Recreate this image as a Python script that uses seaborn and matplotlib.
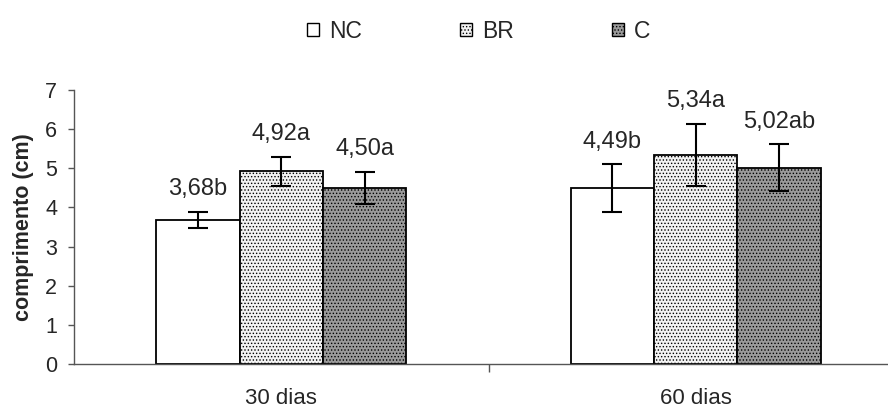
import numpy as np
import pandas as pd
import matplotlib
matplotlib.use('Agg')
import matplotlib.pyplot as plt
import seaborn as sns
from matplotlib.patches import Patch

groups = ['30 dias', '60 dias']
series = ['NC', 'BR', 'C']
nc_vals = [3.68, 4.49]
br_vals = [4.92, 5.34]
c_vals = [4.50, 5.02]
nc_err = [0.20, 0.61]
br_err = [0.38, 0.79]
c_err = [0.41, 0.59]
nc_labels = ['3,68b', '4,49b']
br_labels = ['4,92a', '5,34a']
c_labels = ['4,50a', '5,02ab']
yticks = [0, 1, 2, 3, 4, 5, 6, 7]
ylabel = 'comprimento (cm)'

sns.set_style('white')
plt.rcParams['font.family'] = ['Liberation Sans', 'DejaVu Sans']
plt.rcParams['hatch.linewidth'] = 0.6
plt.rcParams['hatch.color'] = 'black'

vals = {'NC': nc_vals, 'BR': br_vals, 'C': c_vals}
errs = {'NC': nc_err, 'BR': br_err, 'C': c_err}
labs = {'NC': nc_labels, 'BR': br_labels, 'C': c_labels}
rows = []
for s in series:
    for g, v in zip(groups, vals[s]):
        rows.append({'grupo': g, 'serie': s, 'valor': v})
df = pd.DataFrame(rows)

faces = {'NC': '#ffffff', 'BR': '#f2f2f2', 'C': '#9a9a9a'}
hatches = {'NC': '', 'BR': '.....', 'C': '.....'}

fig = plt.figure(figsize=(8.88, 4.07), dpi=100)
ax = fig.add_axes([74/888, 43/407, 829/888, 274/407])
sns.barplot(data=df, x='grupo', y='valor', hue='serie', order=groups,
            hue_order=series, errorbar=None, width=0.604, gap=0,
            palette=faces, edgecolor='black', linewidth=1.3,
            legend=False, ax=ax, saturation=1)

for s, cont in zip(series, ax.containers):
    for bar, e, lab in zip(cont, errs[s], labs[s]):
        bar.set_hatch(hatches[s])
        bar.set_edgecolor('black')
        xc = bar.get_x() + bar.get_width() / 2
        h = bar.get_height()
        ax.errorbar(xc, h, yerr=e, fmt='none', ecolor='black',
                    elinewidth=1.5, capsize=7.5, capthick=1.5, zorder=5)
        ax.annotate(lab, (xc, h + e), xytext=(0, 12), textcoords='offset points',
                    ha='center', va='baseline', fontsize=17)

ax.set_ylim(0, 7)
ax.set_xlim(-0.5, 1.5)
ax.set_yticks(yticks)
ax.set_xlabel('')
ax.set_ylabel(ylabel, fontsize=15.5, fontweight='bold', labelpad=8)
ax.tick_params(axis='y', labelsize=15.5, length=4, width=1, direction='out', left=True,
               color='#555555', pad=8)
ax.tick_params(axis='x', which='major', labelsize=16, length=0, pad=17)
ax.set_xticks([0.5], minor=True)
ax.tick_params(axis='x', which='minor', length=6, width=1, direction='out', bottom=True, color='#555555')
for sp in ['top', 'right']:
    ax.spines[sp].set_visible(False)
for sp in ['left', 'bottom']:
    ax.spines[sp].set_color('#555555')
    ax.spines[sp].set_linewidth(1)

handles = [Patch(facecolor=faces[s], edgecolor='black', hatch=hatches[s], linewidth=1) for s in series]
fig.legend(handles, series, loc='center', bbox_to_anchor=(479 / 888, 1 - 31 / 407), ncol=3,
           frameon=False, fontsize=16.5, handlelength=0.52, handleheight=0.52,
           handletextpad=0.44, columnspacing=4.28, borderpad=0, borderaxespad=0)

fig.savefig('out.png', dpi=100)
